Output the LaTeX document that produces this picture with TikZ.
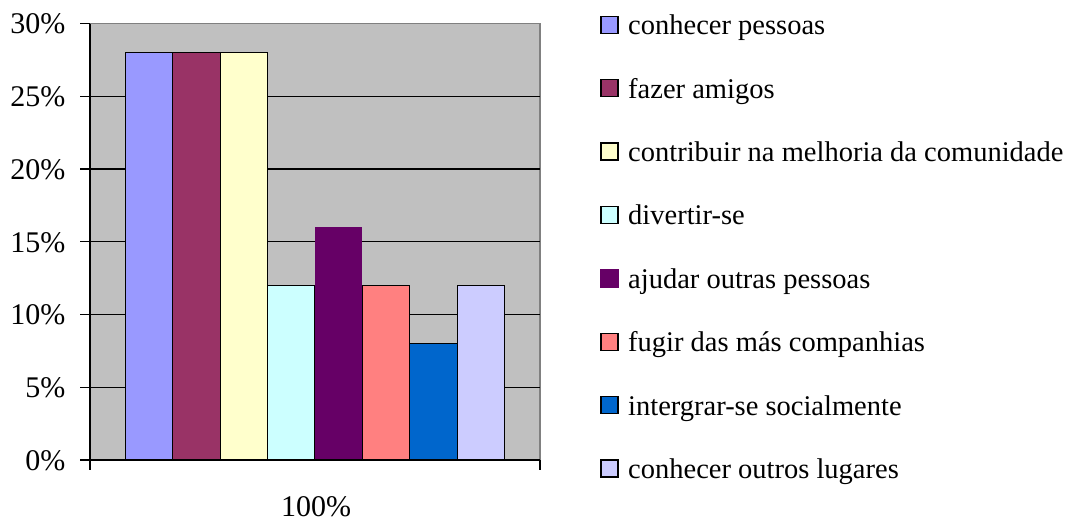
\documentclass[tikz,border=0pt]{standalone}
\usepackage{fontspec}
\setmainfont{Liberation Serif}
\definecolor{plotbg}{HTML}{C0C0C0}
\definecolor{plotframe}{HTML}{808080}
\definecolor{cA}{HTML}{9999FF}
\definecolor{cB}{HTML}{993366}
\definecolor{cC}{HTML}{FFFFCC}
\definecolor{cD}{HTML}{CCFFFF}
\definecolor{cE}{HTML}{660066}
\definecolor{cF}{HTML}{FF8080}
\definecolor{cG}{HTML}{0066CC}
\definecolor{cH}{HTML}{CCCCFF}
\tikzset{
  bar/.style={draw=black, line width=1.1pt},
  gridln/.style={black, line width=1.1pt},
  axisln/.style={black, line width=1.2pt},
  ylab/.style={anchor=east, inner sep=0pt, font=\fontsize{30}{32}\selectfont},
  leglab/.style={anchor=base west, inner sep=0pt, font=\fontsize{28.5}{32}\selectfont},
  legbox/.style={draw=black, line width=1.1pt, minimum width=17pt, minimum height=17pt, inner sep=0pt},
}
\begin{document}
\begin{tikzpicture}[x=1pt, y=-1pt]
\useasboundingbox (0,0) rectangle (1070,522);
% plot area
\fill[plotbg] (90,23.5) rectangle (540,460);
\draw[plotframe, line width=1.1pt] (90,23.5) -- (540,23.5) -- (540,460);
% grid lines
\foreach \y in {387.25,314.5,241.75,169,96.25}
  \draw[gridln] (90,\y) -- (540,\y);
% bars
\fill[cA] (125.3,460) rectangle (172.7,52.6);
\draw[bar] (125.3,460) rectangle (172.7,52.6);
\fill[cB] (172.7,460) rectangle (220.1,52.6);
\draw[bar] (172.7,460) rectangle (220.1,52.6);
\fill[cC] (220.1,460) rectangle (267.5,52.6);
\draw[bar] (220.1,460) rectangle (267.5,52.6);
\fill[cD] (267.5,460) rectangle (314.9,285.4);
\draw[bar] (267.5,460) rectangle (314.9,285.4);
\fill[cE] (314.9,460) rectangle (362.3,227.2);
\fill[cF] (362.3,460) rectangle (409.7,285.4);
\draw[bar] (362.3,460) rectangle (409.7,285.4);
\fill[cG] (409.7,460) rectangle (457.1,343.6);
\draw[bar] (409.7,460) rectangle (457.1,343.6);
\fill[cH] (457.1,460) rectangle (504.5,285.4);
\draw[bar] (457.1,460) rectangle (504.5,285.4);
% axes
\draw[axisln] (90,23.5) -- (90,470);
\draw[axisln] (80,460) -- (540,460);
\draw[axisln] (540,460) -- (540,470);
\foreach \y in {23.5,96.25,169,241.75,314.5,387.25}
  \draw[axisln] (80,\y) -- (90,\y);
% y labels
\node[ylab] (l30) at (65.5,24) {30\%};
\node[ylab] (l25) at (65.5,96.75) {25\%};
\node[ylab] (l20) at (65.5,169.5) {20\%};
\node[ylab] (l15) at (65.5,242.25) {15\%};
\node[ylab] (l10) at (65.5,315) {10\%};
\node[ylab] (l05) at (65.5,387.75) {5\%};
\node[ylab] (l00) at (65.5,460.5) {0\%};
\node[inner sep=0pt, font=\fontsize{30}{32}\selectfont] (xlab) at (316,507) {100\%};
% legend
\node[legbox, fill=cA] (k1) at (609.5,24.7) {};
\node[legbox, fill=cB] (k2) at (609.5,88.1) {};
\node[legbox, fill=cC] (k3) at (609.5,151.5) {};
\node[legbox, fill=cD] (k4) at (609.5,214.9) {};
\node[legbox, draw=none, minimum width=19pt, minimum height=19pt, fill=cE] (k5) at (609.5,278.3) {};
\node[legbox, fill=cF] (k6) at (609.5,341.7) {};
\node[legbox, fill=cG] (k7) at (609.5,405.1) {};
\node[legbox, fill=cH] (k8) at (609.5,468.5) {};
\node[leglab] (t1) at (628,34.7) {conhecer pessoas};
\node[leglab] (t2) at (628,98.1) {fazer amigos};
\node[leglab] (t3) at (628,161.5) {contribuir na melhoria da comunidade};
\node[leglab] (t4) at (628,224.9) {divertir-se};
\node[leglab] (t5) at (628,288.3) {ajudar outras pessoas};
\node[leglab] (t6) at (628,351.7) {fugir das más companhias};
\node[leglab] (t7) at (628,415.1) {intergrar-se socialmente};
\node[leglab] (t8) at (628,478.5) {conhecer outros lugares};
\end{tikzpicture}
\end{document}
